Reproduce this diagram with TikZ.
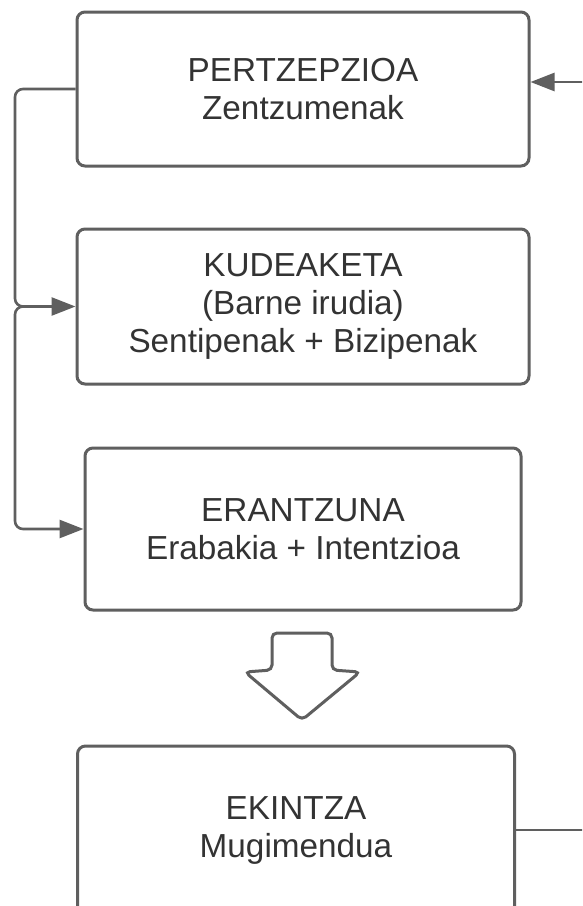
\documentclass[tikz,border=0pt]{standalone}
\usepackage{fontspec}
\setmainfont{Liberation Sans}
\usetikzlibrary{arrows.meta}
\definecolor{linegray}{HTML}{5F5F5F}
\definecolor{txtgray}{HTML}{333333}
\begin{document}
\begin{tikzpicture}[x=1pt,y=1pt,
  box/.style={draw=linegray, line width=3pt, rounded corners=8pt, fill=white, align=center, text=txtgray, font=\fontsize{33.3}{38}\selectfont, inner sep=0pt},
  conn/.style={draw=linegray, line width=2.6pt, rounded corners=8pt},
  tip/.style={-{Triangle[length=24pt,width=18pt]}}]
\useasboundingbox (0,0) rectangle (582,-906);
\fill[white] (0,0) rectangle (582,-906);
\begin{scope}
\clip (0,0) rectangle (582,-906);
\node[box, minimum width=452pt, minimum height=154pt] (b1) at (303,-89) {PERTZEPZIOA\\Zentzumenak};
\node[box, minimum width=452pt, minimum height=155pt] (b2) at (303,-306.5) {KUDEAKETA\\(Barne irudia)\\Sentipenak + Bizipenak};
\node[box, minimum width=436pt, minimum height=162pt] (b3) at (303,-529) {ERANTZUNA\\Erabakia + Intentzioa};
\node[box, minimum width=437pt, minimum height=168pt] (b4) at (296,-830) {EKINTZA\\Mugimendua};

\coordinate (lx) at (15,0);
\coordinate (j) at (45,-306.5);
\coordinate (r1) at (584,-82);
\coordinate (r4) at (584,-830);

\draw[conn,tip] (b1.west) -- (b1.west -| lx) -- (lx |- b2.west) -- (b2.west);
\draw[conn,tip] (j) -- (j -| lx) -- (lx |- b3.west) -- (b3.west);
\draw[conn,tip] (r1) -- (r1 -| b1.east);
\draw[conn] (b4.east) -- (r4);

\draw[draw=linegray, line width=3pt, fill=white, rounded corners=5pt]
  (272,-670) -- (272,-633) -- (332,-633) -- (332,-670) -- (360,-672)
  -- (302,-720) -- (245,-672) -- cycle;
\end{scope}
\end{tikzpicture}
\end{document}
